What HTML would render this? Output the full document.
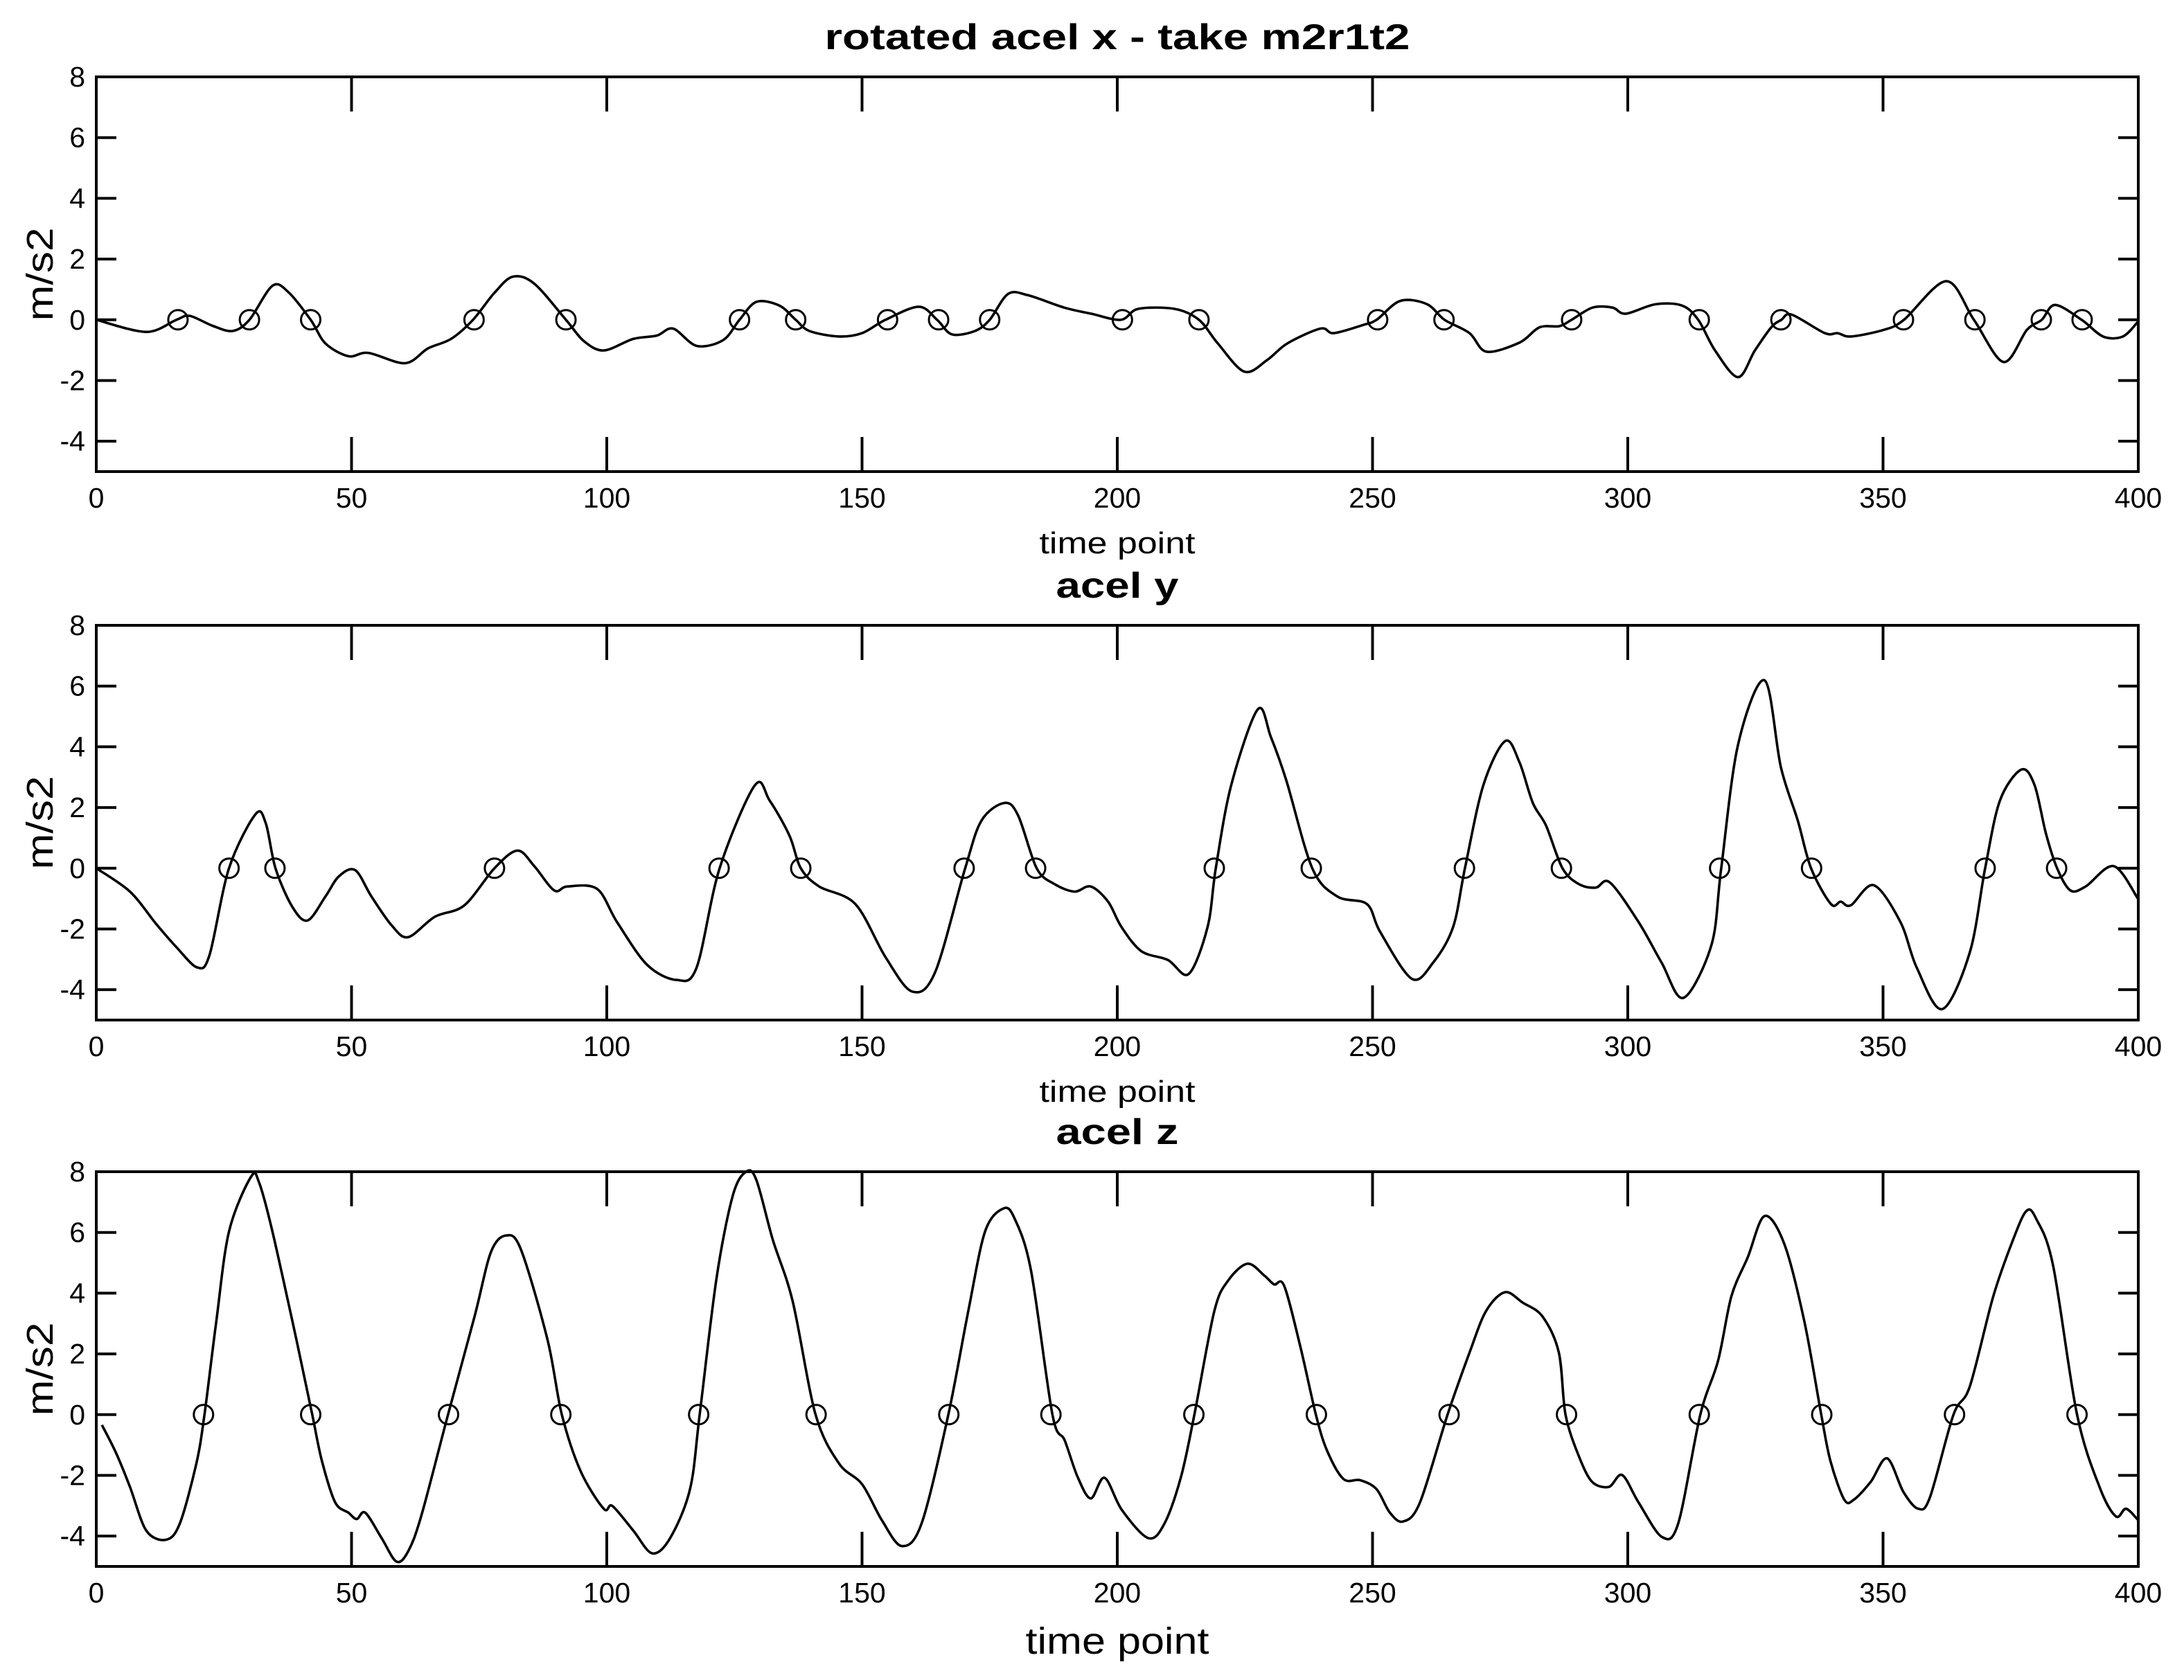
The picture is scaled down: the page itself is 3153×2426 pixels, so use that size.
<!DOCTYPE html>
<html><head><meta charset="utf-8"><style>
html,body{margin:0;padding:0;background:#fff}
svg{display:block}
text{font-family:"Liberation Sans",Arial,sans-serif;fill:#000}
</style></head><body>
<svg id="fig" width="3153" height="2426" viewBox="0 0 3153 2426" xmlns="http://www.w3.org/2000/svg"></svg>
<script>
// ---- data ----
const xTicks = [0,50,100,150,200,250,300,350,400];
const yTicks = [-4,-2,0,2,4,6,8];
const titles = ["rotated acel x - take m2r1t2","acel y","acel z"];

const xT = [0,9.8,15.7,18.3,22.8,26.7,30,34.5,37.7,42,44.9,49.4,53.3,60.5,65,69.5,73.8,78,81.6,85.8,92,95.5,99.4,105.2,109.8,113,117.6,122.8,126,129.3,133.8,137,139.7,145.5,150,154.6,161.1,164.7,167.6,172.1,175,178.6,182.5,189.6,194.9,200.7,204.1,211.2,216,219.7,224.9,229.4,233.3,239.8,242.4,248.2,250.8,255.4,260.6,264.1,269,272.3,278.8,282.7,286.6,289,293.1,297,299.6,305.4,310.6,313.8,317.1,321.6,324.9,328.1,330.1,332.1,338.6,341.1,343.7,350.2,354.1,362.4,367.8,373.6,378.2,381.1,383.7,388.9,393.1,397,400];
const xV = [0,-0.4,0,0.13,-0.2,-0.37,0,1.12,0.9,0,-0.78,-1.2,-1.09,-1.43,-0.94,-0.63,0,0.89,1.42,1.19,0,-0.7,-1.01,-0.63,-0.52,-0.29,-0.86,-0.67,0,0.59,0.47,0,-0.37,-0.55,-0.44,0,0.43,0,-0.48,-0.37,0,0.85,0.81,0.4,0.2,0,0.36,0.36,0,-0.78,-1.71,-1.32,-0.78,-0.29,-0.44,-0.17,0,0.62,0.52,0,-0.44,-1.05,-0.75,-0.25,-0.21,0,0.4,0.4,0.2,0.51,0.47,0,-1.01,-1.89,-1.01,-0.25,0,0.17,-0.44,-0.44,-0.55,-0.33,0,1.27,0,-1.39,-0.33,0,0.49,0,-0.55,-0.55,-0.05];
const xZeros = [16,30,42,74,92,126,137,155,165,175,201,216,251,264,289,314,330,354,368,381,389];

const yT = [0,6.6,11.8,15.7,19.8,22.2,26,31.2,33.2,35.1,38.4,41.4,44.9,47.5,50.7,53.9,57.9,61.1,66.3,72.1,78,82.5,85.8,89.7,92.3,98.1,102,107.9,113.7,117.6,122.1,129,131.9,135.8,138,141.6,148.7,154.6,159.8,164.3,170.2,173.4,177.9,180.6,184.2,187.7,191.6,194.8,198.2,200.8,204.7,209.9,214,217.7,219.3,222.3,227.5,230.1,233.1,238.2,243.1,248.9,251.5,257.7,261.9,265.8,268.1,271.7,276,278.8,281.4,284,287.2,290.4,293.7,296.5,302.1,306.6,310.9,316.4,318.3,321.6,326.8,330,333.3,335.9,339.8,341.7,343.7,348.2,353.4,356.6,361.6,367,370,372.9,377.1,379.7,381.9,384.1,386.7,389.7,395.2,400];
const yV = [0,-0.77,-1.85,-2.6,-3.27,-2.85,0,1.78,1.48,0,-1.27,-1.72,-0.93,-0.27,-0.06,-0.93,-1.89,-2.27,-1.6,-1.22,0,0.58,0.07,-0.73,-0.6,-0.68,-1.77,-3.18,-3.68,-3.27,0,2.73,2.23,1.07,0,-0.6,-1.18,-2.93,-4.06,-3.43,0,1.57,2.15,1.73,0,-0.52,-0.77,-0.6,-1.1,-1.93,-2.73,-3.02,-3.48,-1.93,0,2.73,5.23,4.32,2.9,0,-0.93,-1.18,-2.1,-3.64,-3.1,-1.93,0,2.73,4.19,3.48,2.15,1.4,0,-0.52,-0.64,-0.47,-1.77,-3.1,-4.27,-2.52,0,4.07,6.19,3.32,1.57,0,-1.18,-1.1,-1.22,-0.56,-1.77,-3.27,-4.64,-2.77,0,2.23,3.25,2.73,1.15,0,-0.73,-0.6,0.07,-1.02];
const yZeros = [26,35,78,122,138,170,184,219,238,268,287,318,336,370,384];

const zT = [1.1,3.9,6.6,9.8,13.7,16.4,19.6,21.2,23.5,26,30.3,31.9,34.5,39,42.3,44.2,46.8,49.4,51,52.7,55.9,58.8,61.1,63.7,68.9,74.1,77.3,80.3,83.2,88.4,91.2,94.9,99.4,101.1,105.2,108.9,112.4,116.3,118.2,121.5,124.7,127.3,129.3,132.5,136.4,140.9,145.5,150,153.9,157.8,161.7,166.9,170.8,174.1,177.7,179.9,183.1,187.3,189.7,192.2,194.8,197.5,200.9,206.1,209.3,212.5,215.1,219,221.7,225.5,228.8,230.7,232.7,235.9,238.9,241.1,244.3,247.6,250.8,253.4,256,259.3,264.7,269,272.2,275.9,279.4,283.3,286.5,287.8,290.4,293,296.3,298.9,302.1,306.7,309.9,314.2,317.7,320.3,323.5,326.8,330.7,334.6,337.9,339.7,342.4,344.3,347.6,350.8,354,356.9,359.2,363.8,367,371.6,375.5,378.1,380,383.3,388,392.4,395.6,397.6,400];
const zV = [-0.34,-1.27,-2.38,-3.82,-4.12,-3.57,-1.61,0,3.06,6.03,7.83,7.64,6.03,2.63,0,-1.53,-2.89,-3.23,-3.44,-3.23,-4.07,-4.84,-4.5,-3.31,0,3.23,5.35,5.9,5.43,2.46,0,-1.87,-3.1,-3.01,-3.82,-4.57,-4.07,-2.46,0,4.5,7.22,8.0,7.73,5.77,3.74,0,-1.61,-2.29,-3.48,-4.33,-3.57,0,3.4,6.03,6.79,6.45,4.75,0,-0.85,-2.04,-2.76,-2.08,-3.14,-4.07,-3.57,-2.04,0,3.4,4.41,4.97,4.58,4.29,4.24,2.21,0,-1.19,-2.12,-2.16,-2.46,-3.23,-3.52,-2.89,0,2.04,3.4,4.03,3.69,3.23,2.04,0,-1.36,-2.21,-2.38,-1.99,-2.89,-4.03,-3.57,0,1.78,3.9,5.18,6.54,5.6,3.06,0,-1.53,-2.8,-2.8,-2.21,-1.44,-2.55,-3.1,-2.72,0,0.93,3.9,5.77,6.71,6.45,4.92,0,-2.38,-3.35,-3.1,-3.48];
const zZeros = [21,42,69,91,118,141,167,187,215,239,265,288,314,338,364,388];

// ---- layout ----
const NS = "http://www.w3.org/2000/svg";
const svg = document.getElementById('fig');
const L = 139, R = 3087, PH = 570;
const tops = [111, 903, 1692];
const xmin = 0, xmax = 400, ymin = -5, ymax = 8;
function mk(tag, attrs, parent){ const e=document.createElementNS(NS,tag); for(const k in attrs) e.setAttribute(k,attrs[k]); (parent||svg).appendChild(e); return e; }
function sx(t){ return L + (t - xmin) / (xmax - xmin) * (R - L); }
function makeSy(top){ return v => top + (ymax - v) / (ymax - ymin) * PH; }
function smoothPath(P){
  let d = 'M' + P[0][0].toFixed(1) + ' ' + P[0][1].toFixed(1);
  for (let i = 0; i < P.length - 1; i++) {
    const p0 = P[Math.max(0,i-1)], p1 = P[i], p2 = P[i+1], p3 = P[Math.min(P.length-1,i+2)];
    const k = 0.16;
    const c1x = p1[0] + (p2[0]-p0[0])*k, c1y = p1[1] + (p2[1]-p0[1])*k;
    const c2x = p2[0] - (p3[0]-p1[0])*k, c2y = p2[1] - (p3[1]-p1[1])*k;
    d += 'C' + c1x.toFixed(1)+' '+c1y.toFixed(1)+' '+c2x.toFixed(1)+' '+c2y.toFixed(1)+' '+p2[0].toFixed(1)+' '+p2[1].toFixed(1);
  }
  return d;
}

const series = [[xT,xV,xZeros],[yT,yV,yZeros],[zT,zV,zZeros]];
const names = ['x','y','z'];
const xlabelSize = [44,44,54];
const xlabelLen = [225,225,265];
const titleLen = [845,177,177];

series.forEach((s, i) => {
  const top = tops[i], bot = top + PH, sy = makeSy(top);
  const g = mk('g', {});
  
  

  const title = mk('text', {x:(L+R)/2, y: top - 40, 'text-anchor':'middle', 'font-size':52, 'font-weight':'bold', textLength:titleLen[i], lengthAdjust:'spacingAndGlyphs'}, g);
  title.textContent = titles[i];
  
  

  const pts = s[0].map((t, k) => [sx(t), sy(s[1][k])]);
  const line = mk('path', {d:smoothPath(pts), fill:'none', stroke:'#000', 'stroke-width':3.6, 'stroke-linejoin':'round'}, g);
  
  

  s[2].forEach(t => {
    const c = mk('ellipse', {cx:sx(t), cy:sy(0), rx:14, ry:14, fill:'none', stroke:'#000', 'stroke-width':3}, g);
    
    
  });

  const box = mk('rect', {x:L, y:top, width:R-L, height:PH, fill:'none', stroke:'#000', 'stroke-width':4}, g);
  
  

  xTicks.forEach(t => {
    const x = sx(t);
    if (t !== xmin && t !== xmax) {
      const tk = mk('path', {d:`M${x} ${top}V${top+50}M${x} ${bot}V${bot-50}`, stroke:'#000', 'stroke-width':4}, g);
      
      
    }
    const lb = mk('text', {x:x, y:bot + 52, 'text-anchor':'middle', 'font-size':41}, g);
    lb.textContent = t;
    
    
  });
  yTicks.forEach(v => {
    const y = sy(v);
    if (v !== ymax) {
      const tk = mk('path', {d:`M${L} ${y}H${L+29}M${R} ${y}H${R-29}`, stroke:'#000', 'stroke-width':4}, g);
      
      
    }
    const lb = mk('text', {x:L - 16, y:y + 14, 'text-anchor':'end', 'font-size':41}, g);
    lb.textContent = v;
    
    
  });

  const xl = mk('text', {x:(L+R)/2, y: bot + 118 + (i===2?8:0), 'text-anchor':'middle', 'font-size':xlabelSize[i], textLength:xlabelLen[i], lengthAdjust:'spacingAndGlyphs'}, g);
  xl.textContent = 'time point';
  
  

  const yc = top + PH/2;
  const yl = mk('text', {x:0, y:0, transform:`translate(76 ${yc}) rotate(-90)`, 'text-anchor':'middle', 'font-size':54, textLength:135, lengthAdjust:'spacingAndGlyphs'}, g);
  yl.textContent = 'm/s2';
  
  
});
</script>
</body></html>
